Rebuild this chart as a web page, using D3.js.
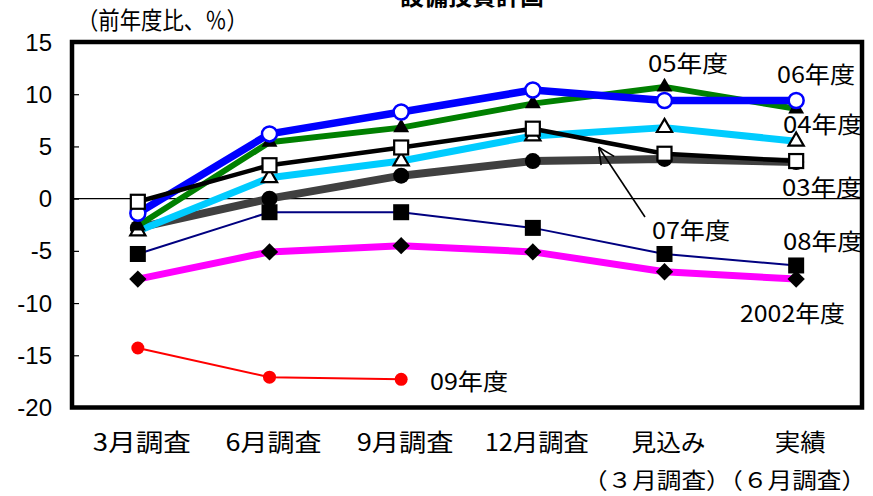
<!DOCTYPE html>
<html>
<head>
<meta charset="utf-8">
<script src="https://cdn.jsdelivr.net/npm/d3@7"></script>
<style>
  body { margin: 0; background: #fff; }
  svg { display: block; }
  .jp { font-family: "Noto Sans CJK JP", "Noto Sans", sans-serif; }
  .num { font-family: "Liberation Sans", Arial, sans-serif; }
</style>
</head>
<body>
<svg id="chart" width="873" height="496"></svg>
<script>
// Survey rounds (x axis)
const categories = ["3月調査", "6月調査", "9月調査", "12月調査", "見込み", "実績"];
const subLabel = "（３月調査）（６月調査）";
const yTicks = [15, 10, 5, 0, -5, -10, -15, -20];

// Year-on-year change, %
const fy2002 = [-7.7, -5.1, -4.5, -5.1, -7.0, -7.7];
const fy03 = [-2.8, 0.0, 2.2, 3.6, 3.8, 3.5];
const fy04 = [-3.1, 2.0, 3.6, 6.0, 6.8, 5.5];
const fy05 = [-2.6, 5.4, 6.8, 9.1, 10.7, 8.6];
const fy06 = [-1.4, 6.2, 8.3, 10.4, 9.4, 9.4];
const fy07 = [-0.3, 3.2, 4.9, 6.7, 4.3, 3.6];
const fy08 = [-5.3, -1.3, -1.3, -2.8, -5.3, -6.4];
const fy09 = [-14.3, -17.1, -17.3];

// Drawing order follows the original (later series on top)
const series = [
  { name: "2002年度", values: fy2002, color: "#ff00ff", width: 7, marker: "diamond" },
  { name: "03年度", values: fy03, color: "#404040", width: 8, marker: "dot" },
  { name: "04年度", values: fy04, color: "#00ccff", width: 7, marker: "openTriangle" },
  { name: "05年度", values: fy05, color: "#008000", width: 6, marker: "triangle" },
  { name: "06年度", values: fy06, color: "#0000ff", width: 7.5, marker: "openCircle" },
  { name: "07年度", values: fy07, color: "#000000", width: 4.5, marker: "openSquare" },
  { name: "08年度", values: fy08, color: "#000080", width: 2, marker: "square" },
  { name: "09年度", values: fy09, color: "#ff0000", width: 2, marker: "redDot" }
];

// Series labels placed like the original annotations
const labels = [
  { text: "05年度", x: 648, y: 72, w: 80 },
  { text: "06年度", x: 777, y: 83, w: 78 },
  { text: "04年度", x: 783, y: 133, w: 80 },
  { text: "03年度", x: 782, y: 196, w: 80 },
  { text: "07年度", x: 652, y: 239, w: 78 },
  { text: "08年度", x: 783, y: 250, w: 80 },
  { text: "2002年度", x: 740, y: 322, w: 105 },
  { text: "09年度", x: 430, y: 390, w: 78 }
];

const plot = { left: 72, right: 862, top: 42, bottom: 407.5 };

const svg = d3.select("#chart");

const x = d3.scalePoint()
  .domain(categories)
  .range([plot.left, plot.right])
  .padding(0.5);

const y = d3.scaleLinear()
  .domain([-20, 15])
  .range([plot.bottom, plot.top]);

// Title (cut off at the top in the original)
svg.append("text")
  .attr("class", "jp")
  .attr("x", 472).attr("y", 5)
  .attr("text-anchor", "middle")
  .attr("font-size", 24)
  .attr("font-weight", "bold")
  .text("設備投資計画");

// Unit label
svg.append("text")
  .attr("class", "jp")
  .attr("x", 77).attr("y", 29)
  .attr("font-size", 24)
  .attr("textLength", 171)
  .attr("lengthAdjust", "spacingAndGlyphs")
  .text("（前年度比、％）");

// Zero line
svg.append("line")
  .attr("x1", plot.left).attr("x2", plot.right)
  .attr("y1", y(0)).attr("y2", y(0))
  .attr("stroke", "#000").attr("stroke-width", 1.2);

// Y axis: inner ticks, labels drawn separately for the look
const yAxis = svg.append("g")
  .attr("transform", `translate(${plot.left},0)`)
  .call(d3.axisRight(y).tickValues(yTicks).tickSize(7).tickFormat(""));
yAxis.select(".domain").remove();
yAxis.selectAll("line").attr("stroke", "#000").attr("stroke-width", 1.2);

svg.append("g").selectAll("text")
  .data(yTicks)
  .join("text")
  .attr("class", "num")
  .attr("x", 52)
  .attr("y", (d) => y(d))
  .attr("dy", "0.36em")
  .attr("text-anchor", "end")
  .attr("font-size", 24)
  .text((d) => (d < 0 ? "-" + Math.abs(d) : d));

// X axis labels
const xLabelWidths = [98, 96, 97, 104, 74, 51];
svg.append("g").selectAll("text")
  .data(categories)
  .join("text")
  .attr("class", "jp")
  .attr("x", (d) => x(d) + 4)
  .attr("y", 451)
  .attr("text-anchor", "middle")
  .attr("font-size", 24)
  .attr("textLength", (d, i) => xLabelWidths[i])
  .attr("lengthAdjust", "spacingAndGlyphs")
  .text((d) => d);

svg.append("text")
  .attr("class", "jp")
  .attr("x", 583).attr("y", 488)
  .attr("font-size", 22)
  .attr("textLength", 283)
  .attr("lengthAdjust", "spacingAndGlyphs")
  .text(subLabel);

// Lines and markers
const line = d3.line()
  .x((d, i) => x(categories[i]))
  .y((d) => y(d));

const sym = (type, size) => d3.symbol().type(type).size(size)();

function drawMarker(g, kind, color) {
  switch (kind) {
    case "diamond":
      g.append("path").attr("d", sym(d3.symbolSquare, 150))
        .attr("transform", "rotate(45)").attr("fill", "#000");
      break;
    case "dot":
      g.append("circle").attr("r", 8).attr("fill", "#000");
      break;
    case "openTriangle":
      g.append("path").attr("d", sym(d3.symbolTriangle, 100))
        .attr("fill", "#fff").attr("stroke", "#000").attr("stroke-width", 2.2);
      break;
    case "triangle":
      g.append("path").attr("d", sym(d3.symbolTriangle, 110)).attr("fill", "#000");
      break;
    case "openCircle":
      g.append("circle").attr("r", 7.5)
        .attr("fill", "#fff").attr("stroke", color).attr("stroke-width", 2.5);
      break;
    case "openSquare":
      g.append("rect").attr("x", -7).attr("y", -7).attr("width", 14).attr("height", 14)
        .attr("fill", "#fff").attr("stroke", "#000").attr("stroke-width", 2.2);
      break;
    case "square":
      g.append("rect").attr("x", -8).attr("y", -8).attr("width", 16).attr("height", 16)
        .attr("fill", "#000");
      break;
    case "redDot":
      g.append("circle").attr("r", 6.5).attr("fill", color);
      break;
  }
}

series.forEach((s) => {
  const g = svg.append("g").attr("class", "series");
  g.append("path")
    .datum(s.values)
    .attr("d", line)
    .attr("fill", "none")
    .attr("stroke", s.color)
    .attr("stroke-width", s.width)
    .attr("stroke-linejoin", "round");

  s.values.forEach((v, i) => {
    const m = g.append("g")
      .attr("transform", `translate(${x(categories[i])},${y(v)})`);
    drawMarker(m, s.marker, s.color);
  });
});

// Series labels
svg.append("g").selectAll("text")
  .data(labels)
  .join("text")
  .attr("class", "jp")
  .attr("x", (d) => d.x)
  .attr("y", (d) => d.y)
  .attr("font-size", 23)
  .attr("textLength", (d) => d.w)
  .attr("lengthAdjust", "spacingAndGlyphs")
  .text((d) => d.text);

// Arrow from the 07 label to its line (tip on the 12月 -> 見込み segment)
const tip = [
  (x(categories[3]) + x(categories[4])) / 2,
  (y(fy07[3]) + y(fy07[4])) / 2 + 6
];
const tail = [645, 217];
const ang = Math.atan2(tail[1] - tip[1], tail[0] - tip[0]);
const headLen = 18;
const arrow = svg.append("g").attr("stroke", "#000").attr("stroke-width", 1.6).attr("fill", "none");
arrow.append("line")
  .attr("x1", tail[0]).attr("y1", tail[1])
  .attr("x2", tip[0]).attr("y2", tip[1]);
[-0.45, 0.45].forEach((da) => {
  arrow.append("line")
    .attr("x1", tip[0]).attr("y1", tip[1])
    .attr("x2", tip[0] + headLen * Math.cos(ang + da))
    .attr("y2", tip[1] + headLen * Math.sin(ang + da));
});

// Plot frame on top
svg.append("rect")
  .attr("x", plot.left).attr("y", plot.top)
  .attr("width", plot.right - plot.left)
  .attr("height", plot.bottom - plot.top)
  .attr("fill", "none")
  .attr("stroke", "#000")
  .attr("stroke-width", 4.5);
</script>
</body>
</html>
